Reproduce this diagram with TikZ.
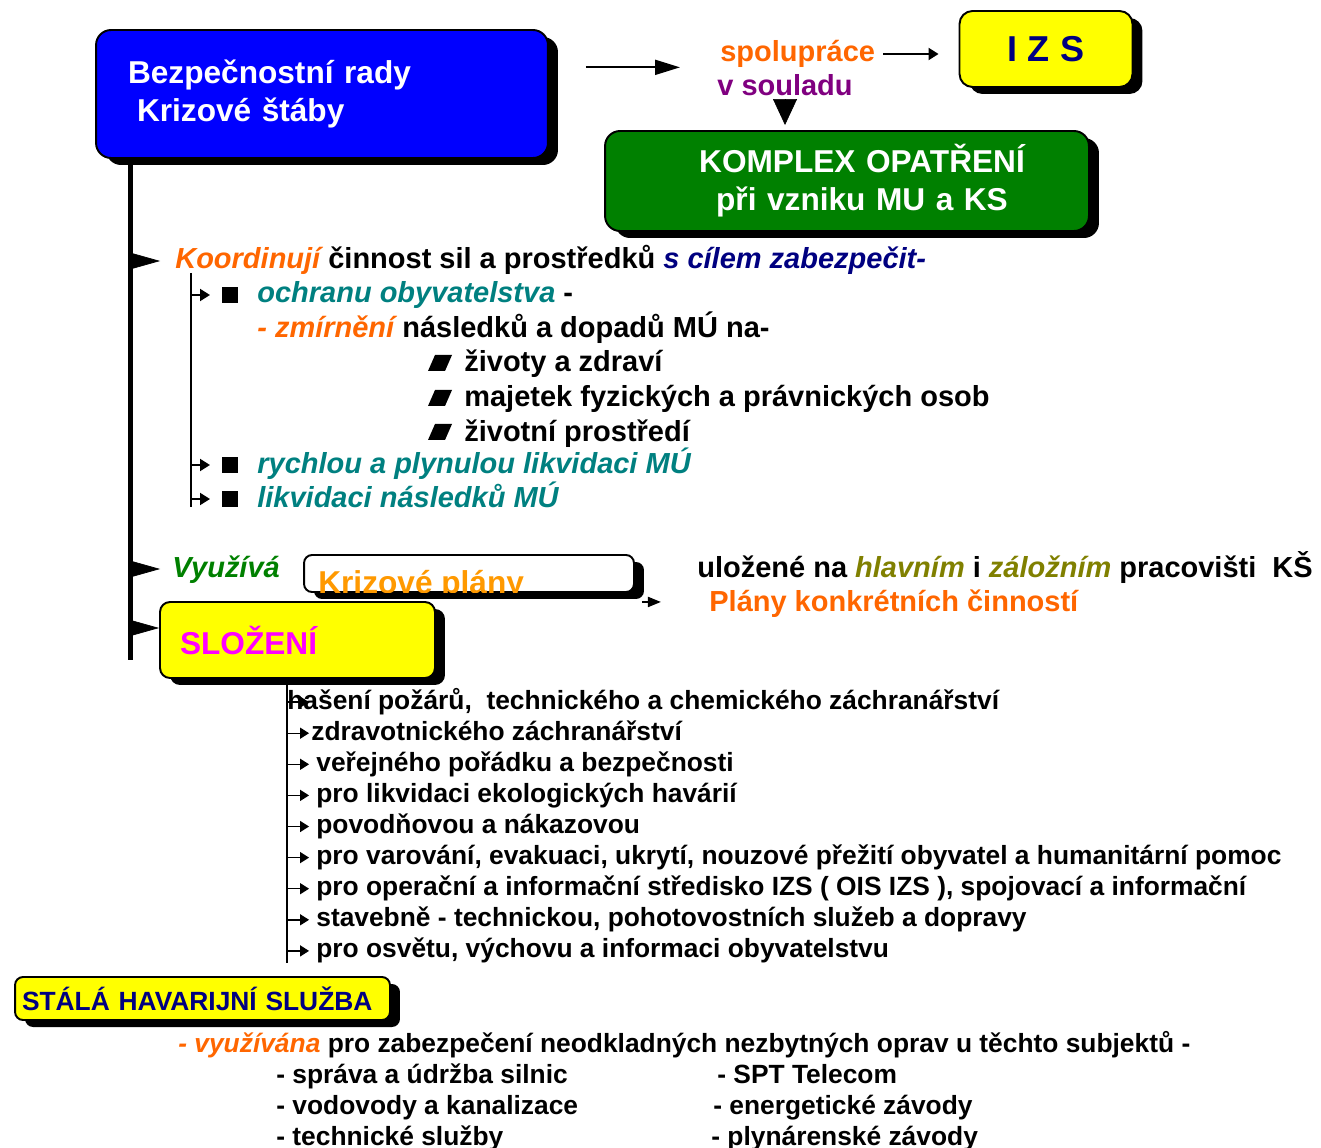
\documentclass[tikz,border=0pt]{standalone}
\usepackage{fontspec}
\setmainfont{Liberation Sans}
\usepackage{xcolor}
\usepackage{tikz}
\usetikzlibrary{arrows.meta,calc,shadows}
\definecolor{radablue}{RGB}{0,0,255}
\definecolor{boxgreen}{RGB}{0,128,0}
\definecolor{boxyellow}{RGB}{255,255,0}
\definecolor{hotorange}{RGB}{255,102,0}
\definecolor{planorange}{RGB}{255,153,0}
\definecolor{deeppurple}{RGB}{128,0,128}
\definecolor{navytext}{RGB}{0,0,128}
\definecolor{tealtext}{RGB}{0,128,128}
\definecolor{olivetext}{RGB}{128,128,0}
\definecolor{pinktext}{RGB}{255,0,255}

\begin{document}
\begin{tikzpicture}[
        x=0.02cm, y=-0.02cm,
        font=\bfseries,
        card/.style={rectangle, draw, line width=1.1pt, fill=#1,
            general shadow={fill=black, shadow xshift=0.2cm, shadow yshift=-0.14cm}},
        bigfont/.style={font=\bfseries\fontsize{18}{21.5}\selectfont},
        txt/.style={anchor=base west, inner sep=0pt, font=\bfseries\fontsize{16.5}{20}\selectfont, text height=0.44cm, text depth=0.12cm},
        lst/.style={anchor=base west, inner sep=0pt, font=\bfseries\fontsize{15}{18}\selectfont, text height=0.4cm, text depth=0.12cm},
        bigtip/.style={-{Triangle[length=0.54cm,width=0.3cm]}, line width=0.4pt},
        downtip/.style={-{Triangle[length=0.52cm,width=0.48cm]}, line width=0.4pt},
        arr/.style={-{Triangle[length=0.5cm,width=0.3cm]}, line width=1.1pt},
        smallarr/.style={-{Triangle[length=0.2cm,width=0.24cm]}, line width=1.1pt},
        midarr/.style={-{Triangle[length=0.26cm,width=0.2cm]}, line width=1.1pt},
        tinyarr/.style={-{Triangle[length=0.18cm,width=0.22cm]}, line width=0.8pt},
    ]
    \useasboundingbox (0,0) rectangle (1321,1148);

    % top boxes
    \node[card=radablue, rounded corners=0.3cm, minimum width=9.04cm, minimum height=2.56cm,
        inner xsep=0.64cm, text width=7.76cm, align=left, text=white, bigfont] (rada) at (322,94)
        {Bezpečnostní rady\\\hspace*{0.18cm}Krizové štáby};
    \node[card=boxyellow, rounded corners=0.26cm, minimum width=3.46cm, minimum height=1.52cm,
        text=navytext, font=\bfseries\fontsize{20.5}{24}\selectfont] (izs) at (1046,49) {I Z S};
    \node[card=boxgreen, rounded corners=0.3cm, minimum width=9.68cm, minimum height=2cm,
        text width=8cm, align=center, text=white, bigfont] (komplex) at (847,181)
        {\hspace*{0.6cm}KOMPLEX OPATŘENÍ\\\hspace*{0.6cm}při vzniku MU a KS};

    \node[txt, text=hotorange] (spol) at (720,62) {spolupráce};
    \node[txt, text=deeppurple] (soul) at (717,96) {v souladu};
    \draw[arr] ($(spol.south west -| rada.east)+(37,-1)$) -- ($(spol.south west)+(-40,-1)$);
    \draw[smallarr] ($(spol.east)+(8,0)$) -- ($(izs.west |- spol.east)+(-20,0)$);
    \draw[downtip] (soul.south) -- ($(soul.south |- komplex.north)+(0,-5)$);

    % spine
    \coordinate (spinetop) at ($(rada.south west)+(35,0)$);
    \draw[line width=0.1cm] (spinetop) -- (spinetop |- 0,660);

    \node[txt] (koord) at (175,269) {\textcolor{hotorange}{\itshape Koordinují} činnost sil a prostředků \textcolor{navytext}{\itshape s cílem zabezpečit-}};
    \draw[bigtip] ($(spinetop |- koord.west)+(2,0)$) -- ++(28,0);

    \coordinate (subtop) at ($(koord.base west)+(16,4)$);
    \node[txt] (ochr) at (257,303) {\textcolor{tealtext}{\itshape ochranu obyvatelstva} -};
    \node[txt] (zmir) at (257,338) {\textcolor{hotorange}{\itshape - zmírnění} následků a dopadů MÚ na-};
    \node[txt] (zdravi) at (464,372) {životy a zdraví};
    \node[txt] (majetek) at (464,407) {majetek fyzických a právnických osob};
    \node[txt] (prostredi) at (464,441) {životní prostředí};
    \node[txt, text=tealtext] (rych) at (257,473) {\itshape rychlou a plynulou likvidaci MÚ};
    \node[txt, text=tealtext] (likv) at (257,507) {\itshape likvidaci následků MÚ};
    \draw[line width=1.1pt] (subtop) -- (subtop |- likv.base);
    \foreach \n in {ochr,rych,likv} {
        \draw[smallarr] (subtop |- \n.west) -- ++(19,0);
        \fill ($(\n.base west)+(-35,0)$) rectangle ++(16,-16);
    }
    \foreach \n in {zdravi,majetek,prostredi}
        \fill ($(\n.base west)+(-36,-1)$) -- ++(17,0) -- ++(7,-16) -- ++(-17,0) -- cycle;

    % plans
    \node[txt, text=boxgreen] (vyuz) at (172,577) {\itshape Využívá};
    \draw[bigtip] ($(spinetop |- vyuz.west)+(2,0)$) -- ++(28,0);
    \node[card=white, rounded corners=0.16cm, minimum width=6.6cm, minimum height=0.74cm] (plany) at (469,573.5) {};
    \begin{scope}
        \clip (plany.south west) rectangle (plany.north east);
        \node[anchor=base west, inner sep=0pt, text=planorange, bigfont] (planyt) at (318,593) {Krizové plány};
    \end{scope}
    \draw[midarr] ($(plany.south east)+(7,9)$) -- ++(19,0);
    \node[txt] (ulozene) at (697,577) {uložené na \textcolor{olivetext}{\itshape hlavním} i \textcolor{olivetext}{\itshape záložním} pracovišti~ KŠ};
    \node[txt, text=hotorange] (cinn) at (709,611) {Plány konkrétních činností};

    % composition
    \node[card=boxyellow, rounded corners=0.2cm, minimum width=5.5cm, minimum height=1.52cm,
        inner xsep=0.4cm, text width=4.7cm, align=left, text=pinktext, bigfont] (slozeni) at (297.5,640) {SLOŽENÍ};
    \draw[bigtip] ($(spinetop |- slozeni.west)+(2,-12)$) -- ++(27,0);

    \coordinate (ltop) at ($(slozeni.south west)+(128,0)$);
    \foreach \x/\t [count=\k] in {
            287/{hašení požárů,~ technického a chemického záchranářství},
            311/{zdravotnického záchranářství},
            316/{veřejného pořádku a bezpečnosti},
            316/{pro likvidaci ekologických havárií},
            316/{povodňovou a nákazovou},
            316/{pro varování, evakuaci, ukrytí, nouzové přežití obyvatel a humanitární pomoc},
            316/{pro operační a informační středisko IZS ( OIS IZS ), spojovací a informační},
            316/{stavebně - technickou, pohotovostních služeb a dopravy},
            316/{pro osvětu, výchovu a informaci obyvatelstvu}} {
        \node[lst] (i\k) at (\x,678+31.1*\k) {\t};
        \draw[tinyarr] (ltop |- i\k.west) -- ++(22,0);
    }
    \draw[line width=1.1pt] (ltop) -- ($(ltop |- i9.base)+(0,5)$);

    % emergency service
    \node[card=boxyellow, rounded corners=0.16cm, minimum width=7.5cm, minimum height=0.86cm,
        inner xsep=0.14cm, text width=7.22cm, align=left, text=navytext,
        font=\bfseries\fontsize{15}{18}\selectfont] (stala) at (202.5,998.5) {STÁLÁ HAVARIJNÍ SLUŽBA};
    \node[lst] (vyuzita) at (178,1052) {\textcolor{hotorange}{\itshape - využívána} pro zabezpečení neodkladných nezbytných oprav u těchto subjektů -};
    \node[lst] (silnice) at (276,1083) {- správa a údržba silnic};
    \node[lst] (vodovody) at (276,1114) {- vodovody a kanalizace};
    \node[lst] (sluzby) at (276,1145) {- technické služby};
    \node[lst] (telecom) at (717,1083) {- SPT Telecom};
    \node[lst] (energ) at (713,1114) {- energetické závody};
    \node[lst] (plyn) at (711,1145) {- plynárenské závody};
\end{tikzpicture}
\end{document}
